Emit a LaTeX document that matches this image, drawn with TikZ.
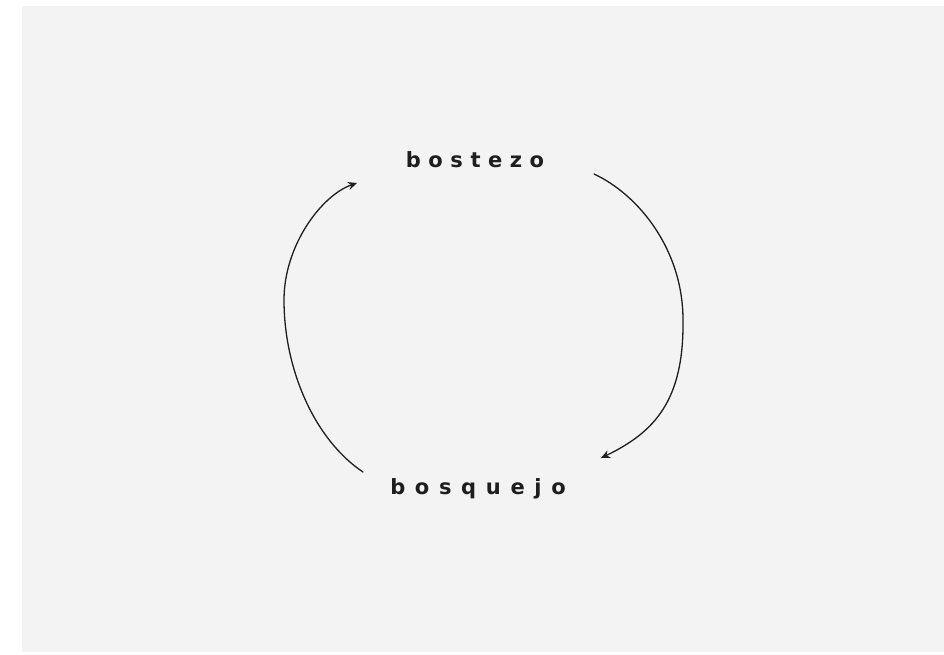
\documentclass[tikz,border=0pt]{standalone}
\usepackage{fontspec}
\setmainfont{DejaVu Sans}
\usetikzlibrary{arrows.meta}
\definecolor{paper}{HTML}{F3F3F3}
\definecolor{ink}{HTML}{1E1E1E}
\tikzset{
  word/.style={font=\fontsize{21}{24}\selectfont\bfseries, text=ink, inner sep=2pt},
  cycle/.style={draw=ink, line width=1.3pt, line cap=round,
    -{Stealth[length=9pt,width=8pt]}}
}
\begin{document}
\begin{tikzpicture}[x=1pt,y=-1pt]
\useasboundingbox (0,0) rectangle (944,655);
\fill[white] (0,0) rectangle (944,655);
\fill[paper] (22,6) rectangle (944,652);
\node[word] (top) at (475,160) {\addfontfeature{LetterSpace=36}bostezo};
\node[word] (bot) at (478,489) {\addfontfeature{LetterSpace=46}bosquejo};
\coordinate (ls) at (363,472);
\coordinate (lm) at (284,300);
\coordinate (le) at (357,183);
\coordinate (rs) at (594,174);
\coordinate (rm) at (683,320);
\coordinate (re) at (601,458);
\draw[cycle] (ls) .. controls (315,440) and (284,370) .. (lm)
  .. controls (284,245) and (322,195) .. (le);
\draw[cycle] (rs) .. controls (639,195) and (683,250) .. (rm)
  .. controls (684,400) and (655,432) .. (re);
\end{tikzpicture}
\end{document}
